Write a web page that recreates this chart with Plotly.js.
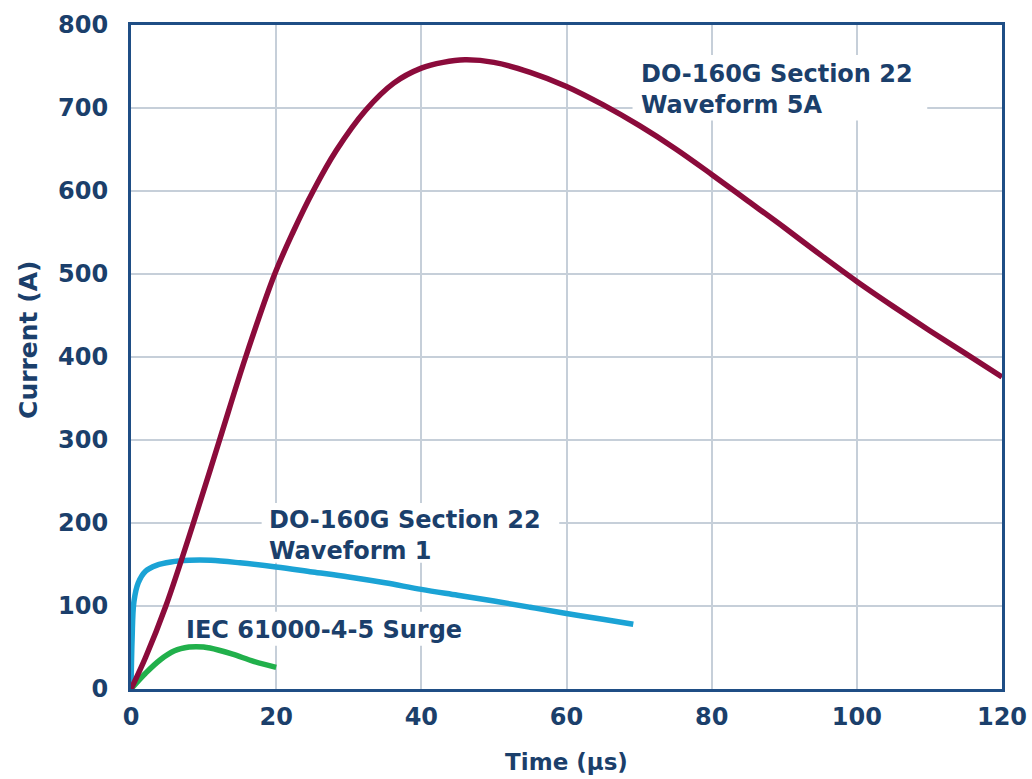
<!DOCTYPE html>
<html>
<head>
<meta charset="utf-8">
<script src="https://cdn.plot.ly/plotly-3.0.1.min.js"></script>
<style>
  html, body { margin: 0; padding: 0; background: #ffffff; }
  #chart { width: 1032px; height: 779px; }
</style>
</head>
<body>
<div id="chart"></div>
<script>
// Waveform 5A (DO-160G Section 22)
const wf5aTime = [0, 2, 4.8, 8.6, 12.2, 15.8, 19.8, 22.3, 25.1, 28.3, 32.3, 36.2, 40, 43, 46, 50, 55, 60, 65, 70, 75, 80, 85, 90, 95, 100, 105, 110, 115, 120];
const wf5aCurrent = [0, 38, 100, 200, 300, 400, 500, 550, 600, 649, 697, 730, 748, 755, 758, 755, 743, 726, 704, 679, 651, 620, 588, 556, 523, 491, 461, 432, 404, 376];

// Waveform 1 (DO-160G Section 22)
const wf1Time = [0, 0.15, 0.4, 1, 2, 3.5, 5.5, 8, 11, 15, 20, 25, 30, 35, 40, 45, 50, 55, 60, 65, 69.2];
const wf1Current = [0, 60, 105, 128, 142, 149, 153, 155, 155, 152, 147, 141, 135, 128, 120, 113, 106, 98.5, 91, 84, 78];

// IEC 61000-4-5 Surge
const iecTime = [0, 2, 4, 6, 8, 9, 10, 12, 14, 17, 20];
const iecCurrent = [0, 19, 35, 46, 50.5, 51, 50.5, 47, 42, 33, 26];

// Axis ticks
const xTicks = [0, 20, 40, 60, 80, 100, 120];
const yTicks = [0, 100, 200, 300, 400, 500, 600, 700, 800];

const labels = {
  wf5a: 'DO-160G Section 22<br>Waveform 5A',
  wf1: 'DO-160G Section 22<br>Waveform 1',
  iec: 'IEC 61000-4-5 Surge',
  x: 'Time (µs)',
  y: 'Current (A)'
};

const navy = '#1b3f6b';
const frame = '#1f4e85';
const grid = '#c6cfd9';
const FONT = '"DejaVu Sans", "Liberation Sans", Arial, sans-serif';

const traces = [
  { x: wf1Time, y: wf1Current, mode: 'lines', line: { color: '#1ba3d5', width: 5.5, shape: 'spline', smoothing: 1 }, hoverinfo: 'skip' },
  { x: iecTime, y: iecCurrent, mode: 'lines', line: { color: '#21b04b', width: 5.5, shape: 'spline', smoothing: 1 }, hoverinfo: 'skip' },
  { x: wf5aTime, y: wf5aCurrent, mode: 'lines', line: { color: '#8b0b3b', width: 5.5, shape: 'spline', smoothing: 1 }, hoverinfo: 'skip' }
];

const labelFont = { family: FONT, size: 24, color: navy, weight: 'bold' };

// white masks behind the labels (hide gridlines, drawn under the curves)
function mask(x0, x1, y0, y1) {
  return { type: 'rect', xref: 'x', yref: 'y', x0: x0, x1: x1, y0: y0, y1: y1,
           fillcolor: '#ffffff', line: { width: 0 }, layer: 'between' };
}

const layout = {
  width: 1032, height: 779,
  margin: { l: 131, r: 30, t: 25, b: 90 },
  paper_bgcolor: '#ffffff', plot_bgcolor: '#ffffff',
  showlegend: false,
  font: { family: FONT, color: navy, size: 24 },
  xaxis: {
    range: [0, 120], tickvals: xTicks, ticktext: xTicks.map(String),
    showgrid: true, gridcolor: grid, gridwidth: 2,
    zeroline: false, showline: true, linecolor: frame, linewidth: 3, mirror: true,
    ticks: '', ticklabelstandoff: 4,
    tickfont: { family: FONT, size: 24, color: navy, weight: 'bold' },
    title: { text: labels.x, standoff: 25, font: { family: FONT, size: 23, color: navy, weight: 'bold' } },
    fixedrange: true
  },
  yaxis: {
    range: [0, 800], tickvals: yTicks, ticktext: yTicks.map(String),
    showgrid: true, gridcolor: grid, gridwidth: 2,
    zeroline: false, showline: true, linecolor: frame, linewidth: 3, mirror: true,
    ticks: '', ticklabelstandoff: 15,
    tickfont: { family: FONT, size: 24, color: navy, weight: 'bold' },
    fixedrange: true
  },
  shapes: [
    mask(69.1, 109.7, 685, 764),
    mask(18.0, 59.0, 152, 224),
    mask(6.8, 46.6, 52, 93)
  ],
  annotations: [
    { x: -0.1183, y: 0.5256, xref: 'paper', yref: 'paper', text: labels.y, textangle: -90, showarrow: false,
      xanchor: 'center', yanchor: 'middle', font: { family: FONT, size: 25, color: navy, weight: 'bold' } },
    { x: 70.0, y: 722, xref: 'x', yref: 'y', text: labels.wf5a, showarrow: false, xanchor: 'left', yanchor: 'middle', align: 'left',
      borderpad: 1, font: labelFont },
    { x: 18.7, y: 185, xref: 'x', yref: 'y', text: labels.wf1, showarrow: false, xanchor: 'left', yanchor: 'middle', align: 'left',
      borderpad: 1, font: labelFont },
    { x: 7.24, y: 71, xref: 'x', yref: 'y', text: labels.iec, showarrow: false, xanchor: 'left', yanchor: 'middle', align: 'left',
      borderpad: 1, font: labelFont }
  ]
};

Plotly.newPlot('chart', traces, layout, { displayModeBar: false, staticPlot: true });
</script>
</body>
</html>
